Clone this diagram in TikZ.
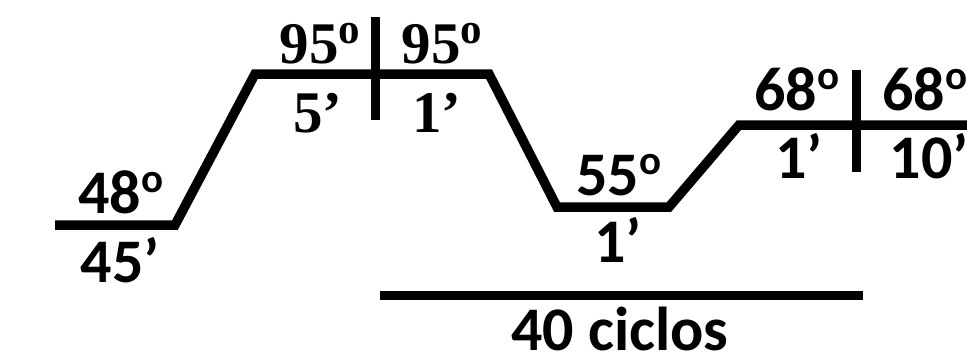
\documentclass[tikz,border=0pt]{standalone}
\usepackage{fontspec}
\setmainfont{Carlito}
\newfontfamily\serifbold{Liberation Serif}
\newcommand\degS{\raisebox{21pt}{\fontsize{41}{41}\selectfont o}}
\newcommand\degT{\raisebox{20pt}{\fontsize{43}{43}\selectfont o}}
\begin{document}
\begin{tikzpicture}[x=1pt,y=-1pt,
  profile/.style={line width=9.5pt,line join=miter,line cap=butt},
  tick/.style={line width=9pt},
  lbl/.style={inner sep=0pt,anchor=base,font=\fontsize{62}{62}\selectfont\bfseries},
  slbl/.style={inner sep=0pt,anchor=base,font=\fontsize{59}{59}\selectfont\serifbold\bfseries}]
\useasboundingbox (0,0) rectangle (967,357);
% profile
\coordinate (p0) at (55,225);
\coordinate (p1) at (175,225);
\coordinate (p2) at (255,74);
\coordinate (p3) at (489,74);
\coordinate (p4) at (557,207);
\coordinate (p5) at (669,207);
\coordinate (p6) at (739,125);
\coordinate (p7) at (967,125);
\draw[profile] (p0) -- (p1) -- (p2) -- (p3) -- (p4) -- (p5) -- (p6) -- (p7);
% separators
\coordinate (t1a) at (375,17);
\coordinate (t1b) at (375,120);
\coordinate (t2a) at (856,70);
\coordinate (t2b) at (856,172);
\draw[tick] (t1a) -- (t1b);
\draw[tick] (t2a) -- (t2b);
% cycles bar
\coordinate (b0) at (380,295.5);
\coordinate (b1) at (863,295.5);
\draw[tick] (b0) -- (b1);
% labels
\node[lbl] (l48) at (121,213) {48\degS};
\node[lbl] (l45) at (120,282) {45’};
\node[slbl] (l95a) at (320,63) {95\degT};
\node[slbl] (l95b) at (442,63) {95\degT};
\node[slbl] (l5) at (318,132) {5’};
\node[slbl] (l1a) at (437,132) {1’};
\node[lbl] (l55) at (619,195) {55\degS};
\node[lbl] (l1b) at (618,262) {1’};
\node[lbl] (l68a) at (797,110) {68\degS};
\node[lbl] (l68b) at (925,110) {68\degS};
\node[lbl] (l1c) at (799,178) {1’};
\node[lbl] (l10) at (929,178) {10’};
\node[lbl] (lcyc) at (620,350) {40 ciclos};
\end{tikzpicture}
\end{document}
